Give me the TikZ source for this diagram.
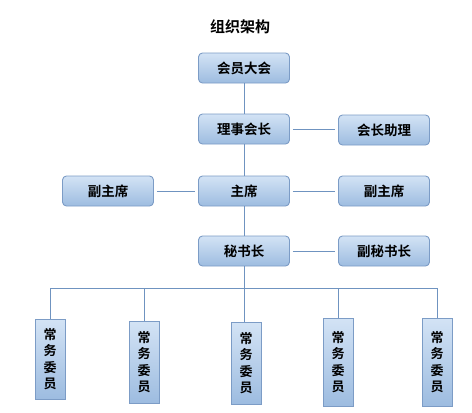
\documentclass[tikz,border=0pt]{standalone}
\usepackage{fontspec}
\setmainfont{Noto Sans CJK SC}[BoldFont={Noto Sans CJK SC Bold}]
\usetikzlibrary{positioning}
\definecolor{boxtop}{HTML}{D3E3F5}
\definecolor{boxbot}{HTML}{9DBCE0}
\definecolor{boxline}{HTML}{7C9CC6}
\definecolor{linkc}{HTML}{6F93C0}
\tikzset{
  hbox/.style={draw=boxline, line width=0.9pt, rounded corners=4pt, top color=boxtop, bottom color=boxbot,
    minimum width=91pt, minimum height=30pt, inner sep=0pt, font=\fontsize{13.5}{15}\selectfont\bfseries},
  vbox/.style={draw=boxline, line width=0.9pt, top color=boxtop, bottom color=boxbot,
    minimum width=30pt, minimum height=84pt, inner sep=0pt, align=center, font=\fontsize{13}{16.5}\selectfont\bfseries},
  link/.style={draw=linkc, line width=1pt},
}
\begin{document}
\begin{tikzpicture}[x=1pt,y=-1pt]
\useasboundingbox[fill=white] (0,0) rectangle (472,413);
\node[font=\fontsize{15}{17}\selectfont\bfseries] (title) at (240,27) {组织架构};
\node[hbox] (hy) at (244,68) {会员大会};
\node[hbox] (lsh) at (244,129) {理事会长};
\node[hbox] (hzl) at (384,130) {会长助理};
\node[hbox] (zx) at (244,191) {主席};
\node[hbox] (fzl) at (108,191) {副主席};
\node[hbox] (fzr) at (384,191) {副主席};
\node[hbox] (msz) at (244,251) {秘书长};
\node[hbox] (fms) at (384,251) {副秘书长};
\coordinate (bus) at (244,288);
\coordinate (busL) at (50,288);
\coordinate (busR) at (437,288);
\node[vbox, minimum height=80pt] (c1) at (50,359) {常\\务\\委\\员};
\node[vbox, minimum height=82pt] (c2) at (144,362) {常\\务\\委\\员};
\node[vbox, minimum height=82pt] (c3) at (246,363) {常\\务\\委\\员};
\node[vbox, minimum height=88pt] (c4) at (338,362) {常\\务\\委\\员};
\node[vbox, minimum height=88pt] (c5) at (437,362) {常\\务\\委\\员};
\path[link] (hy) -- (lsh);
\path[link] (lsh) -- (zx);
\path[link] (zx) -- (msz);
\path[link] ([xshift=3pt]lsh.east) -- ([xshift=-3pt]hzl.west|-lsh.east);
\path[link] ([xshift=3pt]fzl.east) -- ([xshift=-3pt]zx.west);
\path[link] ([xshift=3pt]zx.east) -- ([xshift=-3pt]fzr.west);
\path[link] ([xshift=3pt]msz.east) -- ([xshift=-3pt]fms.west);
\path[link] (msz.south) -- (bus);
\path[link] (busL) -- (busR);
\path[link] (busL) -- (c1.north);
\path[link] (c2.north|-bus) -- (c2.north);
\path[link] (bus) -- (c3.north-|bus);
\path[link] (c4.north|-bus) -- (c4.north);
\path[link] (busR) -- (c5.north);
\end{tikzpicture}
\end{document}
